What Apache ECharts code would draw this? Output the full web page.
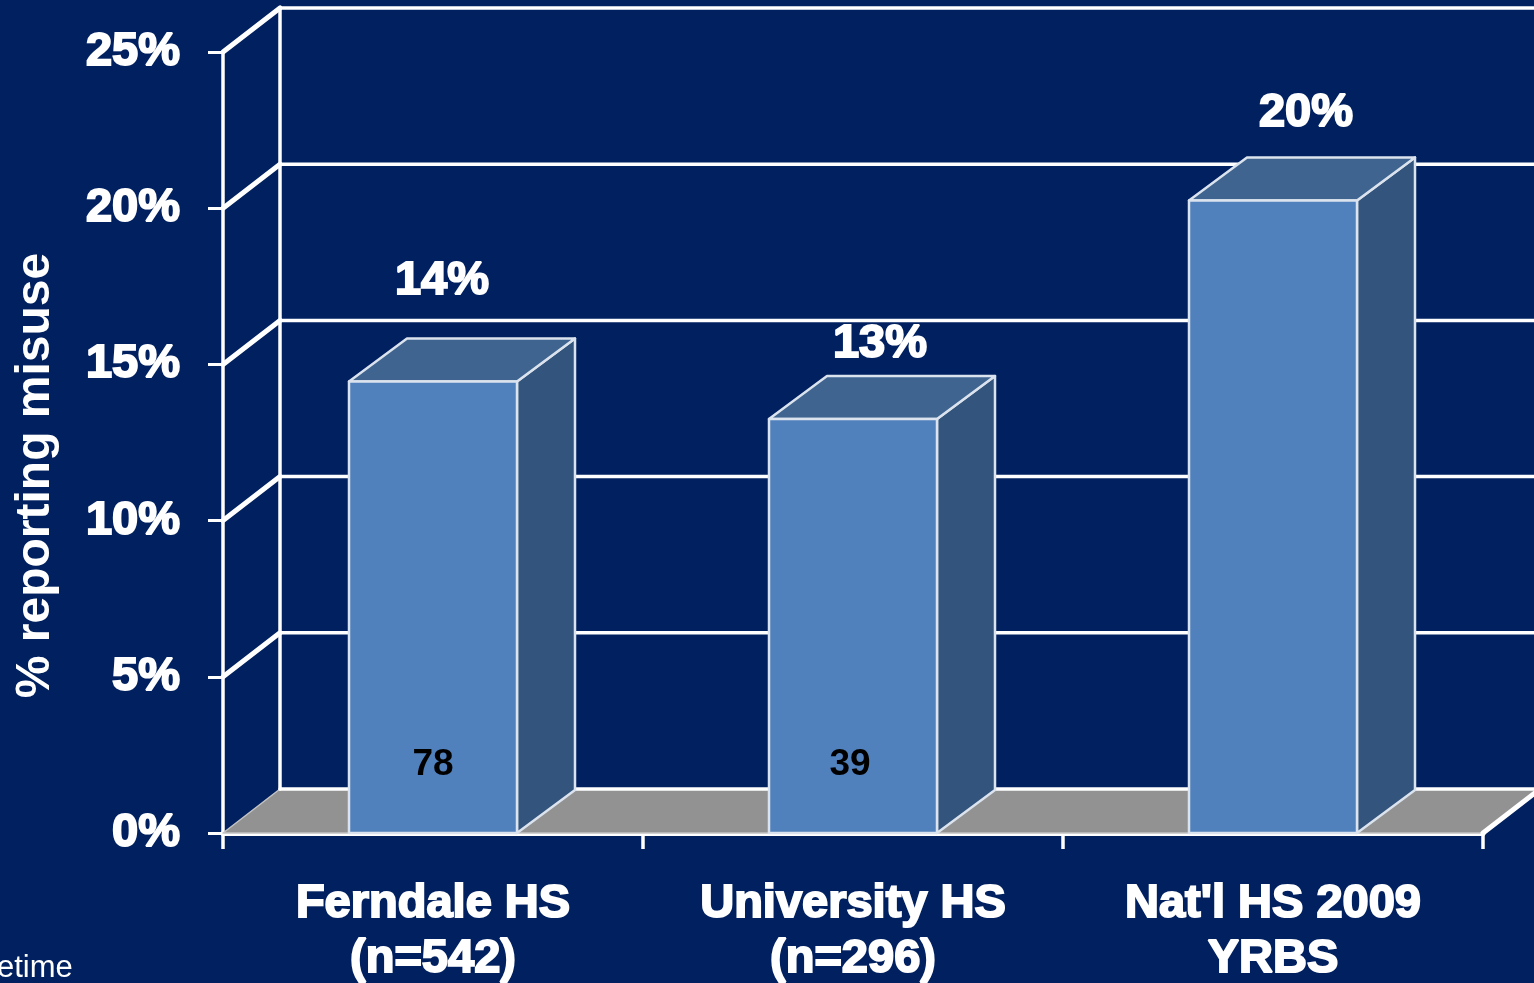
<!DOCTYPE html>
<html><head><meta charset="utf-8">
<style>html,body{margin:0;padding:0;background:#00205f;overflow:hidden}#c{width:1534px;height:983px}</style>
<script src="https://cdn.jsdelivr.net/npm/echarts@6/dist/echarts.min.js"></script>
</head><body><div id="c"></div>
<script>
const categories = ['Ferndale HS\n(n=542)', 'University HS\n(n=296)', "Nat'l HS 2009\nYRBS"];
const values = [14.45, 13.25, 20.25];
const valueLabels = ['14%', '13%', '20%'];
const innerLabels = ['78', '39', ''];
const yTicks = [0, 5, 10, 15, 20, 25];
const axisNameText = '% reporting misuse';
const footText = 'etime';

// layout only
const DX = 57, DY = -44;
const labelShift = [[9, -100.5], [27, -75], [33, -87]];
const innerShift = [0, -3, 0];
const FONT = '"Liberation Sans", Arial, sans-serif';
const WHITE = '#ffffff', EDGE = '#dbe3ee';

function poly(points, fill, stroke, lw) {
  return {type: 'polygon', shape: {points}, style: {fill, stroke, lineWidth: lw, lineJoin: 'round'}};
}
function line(a, b, lw) {
  return {type: 'line', shape: {x1: a[0], y1: a[1], x2: b[0], y2: b[1]}, style: {stroke: WHITE, lineWidth: lw, lineCap: 'round'}};
}
function frame(api) {
  const half = api.size([1, 0])[0] / 2;
  const xl = api.coord([0, 0])[0] - half;
  const xr = api.coord([categories.length - 1, 0])[0] + half;
  return {xl, xr};
}
function renderFloor(params, api) {
  const {xl, xr} = frame(api), y = api.coord([0, 0])[1];
  return {type: 'group', children: [
    poly([[xl, y], [xl + DX, y + DY], [xr + DX, y + DY], [xr, y]], '#929292', '#c4c4c4', 1.5),
    line([xr, y], [xr + DX, y + DY], 5)
  ]};
}
function renderGrid(params, api) {
  const {xl, xr} = frame(api), v = api.value(1), y = api.coord([0, v])[1];
  const kids = [
    line([xl, y], [xl + DX, y + DY], v === 0 ? 0.01 : 5),
    line([xl + DX, y + DY], [xr + DX + 10, y + DY], 3.5)
  ];
  if (v === yTicks[yTicks.length - 1]) {
    const y0 = api.coord([0, 0])[1];
    kids.push(line([xl + DX, y + DY], [xl + DX, y0 + DY], 3.5));
  }
  return {type: 'group', children: kids};
}
function renderBar(params, api) {
  const i = api.value(0), v = api.value(1);
  const c = api.coord([i, v]), base = api.coord([i, 0]);
  const w = api.size([1, 0])[0] * 0.4, x0 = c[0] - w / 2, x1 = c[0] + w / 2;
  const t = c[1], b = base[1];
  const sx = 58, sy = -43;
  return {type: 'group', children: [
    poly([[x1, t], [x1 + sx, t + sy], [x1 + sx, b + sy], [x1, b]], '#33547c', EDGE, 2.5),
    poly([[x0, t], [x0 + sx, t + sy], [x1 + sx, t + sy], [x1, t]], '#3f648f', EDGE, 2.5),
    poly([[x0, t], [x1, t], [x1, b], [x0, b]], '#5181bd', EDGE, 2.5),
    {type: 'text', x: c[0] + labelShift[i][0], y: t + labelShift[i][1],
     style: {text: valueLabels[i], fill: WHITE, font: 'bold 47px ' + FONT, align: 'center', verticalAlign: 'middle', stroke: WHITE, lineWidth: 2}},
    {type: 'text', x: c[0] + innerShift[i], y: b - 68,
     style: {text: innerLabels[i], fill: '#000000', font: 'bold 37px ' + FONT, align: 'center', verticalAlign: 'middle'}}
  ]};
}

const chart = echarts.init(document.getElementById('c'), null, {renderer: 'canvas'});
chart.setOption({
  backgroundColor: '#00205f',
  animation: false,
  grid: {left: 223, top: 52, width: 1260, height: 781, outerBoundsMode: 'none'},
  xAxis: {
    type: 'category', data: categories,
    axisLine: {show: true, onZero: false, lineStyle: {color: WHITE, width: 5}},
    axisTick: {show: true, length: 16, alignWithLabel: false, lineStyle: {color: WHITE, width: 3.5}},
    axisLabel: {color: WHITE, fontFamily: FONT, fontWeight: 'bold', fontSize: 47, lineHeight: 55, margin: 44,
      textBorderColor: WHITE, textBorderWidth: 2, interval: 0}
  },
  yAxis: {
    type: 'value', min: 0, max: 25, interval: 5,
    splitLine: {show: false},
    axisLine: {show: true, lineStyle: {color: WHITE, width: 3.5}},
    axisTick: {show: true, length: 15, lineStyle: {color: WHITE, width: 3}},
    axisLabel: {color: WHITE, fontFamily: FONT, fontWeight: 'bold', fontSize: 47, margin: 43, padding: [9, 0, 0, 0],
      formatter: '{value}%', textBorderColor: WHITE, textBorderWidth: 2}
  },
  series: [
    {type: 'custom', coordinateSystem: 'cartesian2d', clip: false, z: 1, silent: true,
     renderItem: renderFloor, data: [[0, 0]], encode: {x: 0, y: 1}},
    {type: 'custom', coordinateSystem: 'cartesian2d', clip: false, z: 2, silent: true,
     renderItem: renderGrid, data: yTicks.map(v => [0, v]), encode: {x: 0, y: 1}},
    {type: 'custom', coordinateSystem: 'cartesian2d', clip: false, z: 3, silent: true,
     renderItem: renderBar, data: values.map((v, i) => [i, v]), encode: {x: 0, y: 1}}
  ],
  graphic: [
    {type: 'text', rotation: Math.PI / 2, x: 36, y: 475.5, z: 10,
     style: {text: axisNameText, fill: WHITE, font: 'bold 48px ' + FONT, align: 'center', verticalAlign: 'middle'}},
    {type: 'text', x: -3, y: 968, z: 10,
     style: {text: footText, fill: WHITE, font: '31px ' + FONT, align: 'left', verticalAlign: 'middle'}}
  ]
});
</script></body></html>
